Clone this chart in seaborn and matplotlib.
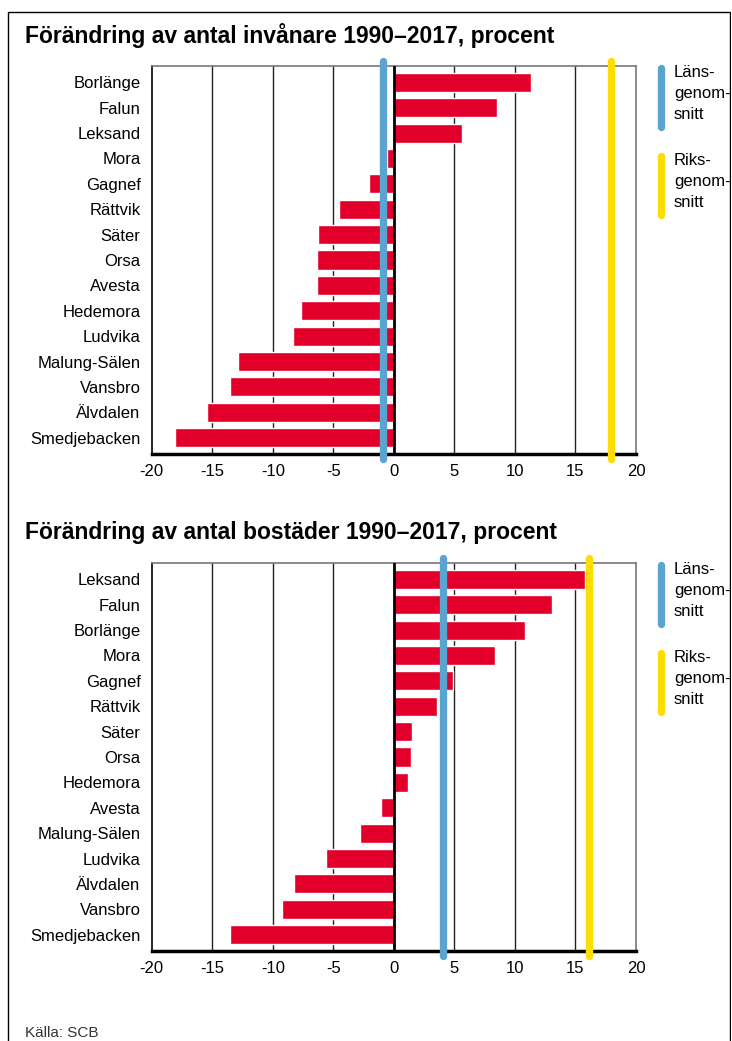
import matplotlib
matplotlib.use("Agg")
import matplotlib.pyplot as plt
import seaborn as sns
from matplotlib.lines import Line2D
from matplotlib.patches import Rectangle

# Data
kommuner_inv = ["Borlänge", "Falun", "Leksand", "Mora", "Gagnef", "Rättvik", "Säter", "Orsa",
                "Avesta", "Hedemora", "Ludvika", "Malung-Sälen", "Vansbro", "Älvdalen", "Smedjebacken"]
inv_change = [11.3, 8.5, 5.6, -0.55, -2.05, -4.5, -6.3, -6.35, -6.35, -7.7, -8.35, -12.9, -13.55, -15.45, -18.1]
inv_lan = -0.9
inv_riket = 17.9

kommuner_bost = ["Leksand", "Falun", "Borlänge", "Mora", "Gagnef", "Rättvik", "Säter", "Orsa",
                 "Hedemora", "Avesta", "Malung-Sälen", "Ludvika", "Älvdalen", "Vansbro", "Smedjebacken"]
bost_change = [15.8, 13.05, 10.8, 8.35, 4.9, 3.6, 1.5, 1.4, 1.15, -1.05, -2.8, -5.6, -8.25, -9.2, -13.55]
bost_lan = 4.1
bost_riket = 16.1

xticks = [-20, -15, -10, -5, 0, 5, 10, 15, 20]
xticklabels = ["-20", "-15", "-10", "-5", "0", "5", "10", "15", "20"]

RED = "#E2002A"
BLUE = "#5BA4CF"
YELLOW = "#FFDD00"

sns.set_style("white")
plt.rcParams["font.family"] = ["Liberation Sans", "DejaVu Sans"]
plt.rcParams["text.color"] = "black"
plt.rcParams["xtick.color"] = "black"
plt.rcParams["ytick.color"] = "black"

W, H = 732, 1041
fig = plt.figure(figsize=(W / 100, H / 100), dpi=100)


def px(x0, y0, x1, y1):
    return [x0 / W, 1 - y1 / H, (x1 - x0) / W, (y1 - y0) / H]


def draw_chart(top, names, values, lan, riket, title):
    ax = fig.add_axes(px(151.7, top, 636, top + 388))
    sns.barplot(x=values, y=names, orient="h", color=RED, width=0.75,
                saturation=1, ax=ax, zorder=2)
    ax.set_xlim(-20, 20)
    ax.set_ylim(14.64, -0.64)
    ax.set_xticks(xticks)
    ax.set_xticklabels(xticklabels, fontsize=12)
    ax.tick_params(axis="both", length=0, labelsize=12, labelcolor="black")
    ax.tick_params(axis="x", pad=7)
    ax.tick_params(axis="y", pad=8)
    ax.set_xlabel("")
    ax.set_ylabel("")
    for v in [-15, -10, -5, 5, 10, 15]:
        ax.axvline(v, color="#222222", lw=1.0, zorder=1)
    ax.axvline(0, color="black", lw=2.0, zorder=3)
    for s in ["top", "right"]:
        ax.spines[s].set_color("#777777")
        ax.spines[s].set_linewidth(1.2)
    ax.spines["left"].set_color("black")
    ax.spines["left"].set_linewidth(1.2)
    ax.spines["bottom"].set_color("black")
    ax.spines["bottom"].set_linewidth(2.5)
    ax.plot([lan, lan], [-0.84, 14.85], color=BLUE, lw=5.3,
            solid_capstyle="round", clip_on=False, zorder=4)
    ax.plot([riket, riket], [-0.84, 14.85], color=YELLOW, lw=5.3,
            solid_capstyle="round", clip_on=False, zorder=4)
    fig.text(25 / W, 1 - (top - 31) / H, title, fontsize=16.5, fontweight="bold",
             va="center", ha="left")
    # legend
    ly = top - 1
    fig.add_artist(Line2D([661 / W, 661 / W], [1 - (ly + 3) / H, 1 - (ly + 62) / H],
                          color=BLUE, lw=5.3, solid_capstyle="round"))
    fig.add_artist(Line2D([661 / W, 661 / W], [1 - (ly + 91) / H, 1 - (ly + 150) / H],
                          color=YELLOW, lw=5.3, solid_capstyle="round"))
    fig.text(674 / W, 1 - ly / H, "Läns-\ngenom-\nsnitt", fontsize=12,
             va="top", ha="left", linespacing=1.5)
    fig.text(674 / W, 1 - (ly + 88) / H, "Riks-\ngenom-\nsnitt", fontsize=12,
             va="top", ha="left", linespacing=1.5)
    return ax


draw_chart(66, kommuner_inv, inv_change, inv_lan, inv_riket,
           "Förändring av antal invånare 1990–2017, procent")
draw_chart(563, kommuner_bost, bost_change, bost_lan, bost_riket,
           "Förändring av antal bostäder 1990–2017, procent")

fig.text(25 / W, 1 - 1033 / H, "Källa: SCB", fontsize=11, va="center", ha="left",
         color="#333333")

frame = Rectangle((8 / W, -0.01), (730 - 8) / W, 1.01 - 12 / H, transform=fig.transFigure,
                  fill=False, edgecolor="black", lw=1.0)
fig.add_artist(frame)
# white strip right of the frame so the legend text gets cut like in the original
fig.add_artist(Rectangle((730.7 / W, 0), 2 / W, 1, transform=fig.transFigure,
                         facecolor="white", edgecolor="none", zorder=10))

fig.savefig("out.png", dpi=100)
